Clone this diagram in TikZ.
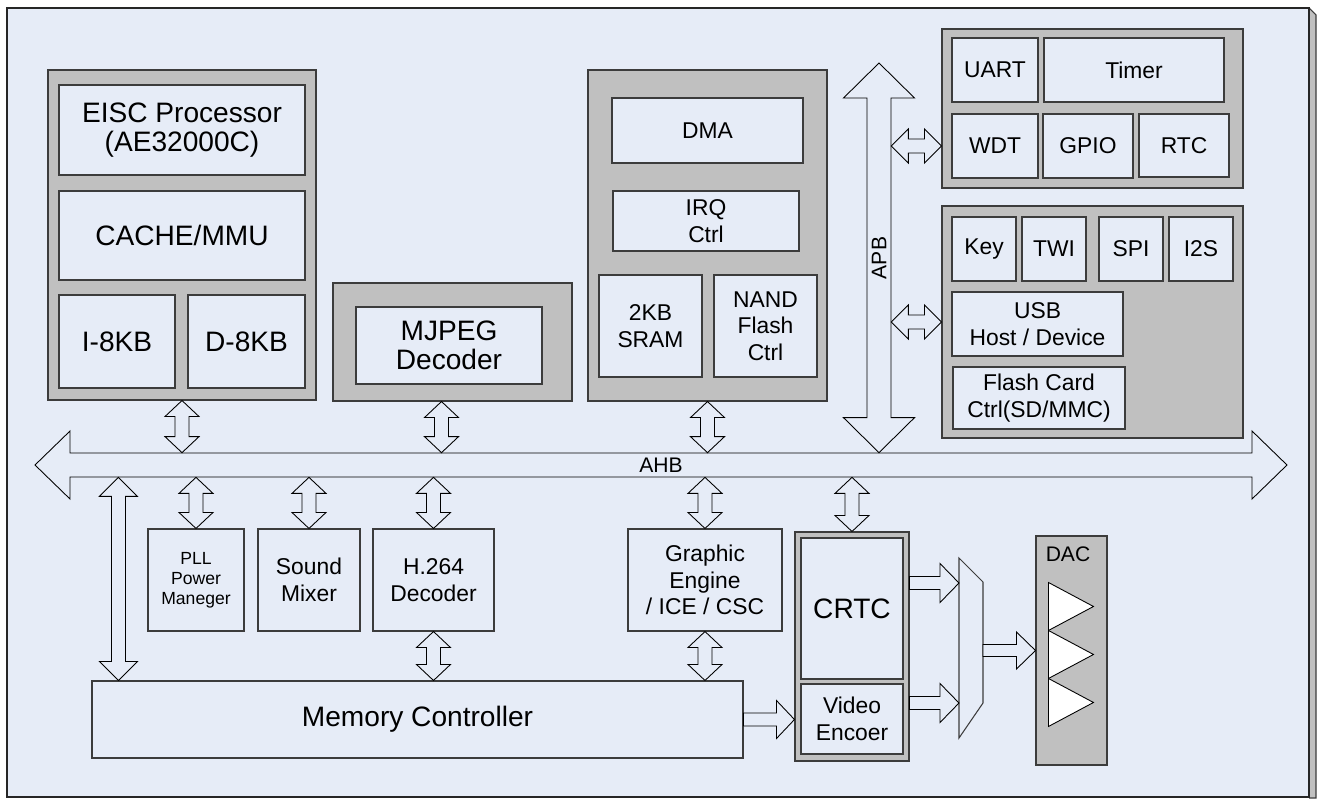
\documentclass[tikz,border=0pt]{standalone}
\usepackage{fontspec}
\setmainfont{Liberation Sans}
\usepackage{graphicx}
\usepackage{xcolor}
\usepackage{tikz}
\usetikzlibrary{positioning,calc}
\definecolor{panel}{HTML}{E6ECF7}
\definecolor{slab}{HTML}{C0C0C0}
\definecolor{edge}{HTML}{3C3C3C}

\newcommand{\labbig}{\fontsize{16}{16.5}\selectfont}
\newcommand{\labmid}{\fontsize{13}{15}\selectfont}
\newcommand{\labsml}{\fontsize{10}{11.3}\selectfont}
\newcommand{\labbus}{\fontsize{12}{14}\selectfont}

% fat block arrows: #1 half head, #2 half shaft, #3 head length, #4 from, #5 to
\newcommand{\vdbl}[5]{\draw[fatarr] (#4) -- ++(#1,#3) -- ++(#2-#1,0) -- ($(#5)+(#2,-#3)$) -- ++(#1-#2,0) -- (#5) -- ++(-#1,-#3) -- ++(#1-#2,0) -- ($(#4)+(-#2,#3)$) -- ++(#2-#1,0) -- cycle;}
\newcommand{\hdbl}[5]{\draw[fatarr] (#4) -- ++(#3,-#1) -- ++(0,#1-#2) -- ($(#5)+(-#3,-#2)$) -- ++(0,#2-#1) -- (#5) -- ++(-#3,#1) -- ++(0,#2-#1) -- ($(#4)+(#3,#2)$) -- ++(0,#1-#2) -- cycle;}
\newcommand{\hfat}[5]{\draw[fatarr] ($(#4)+(0,-#2)$) -- ($(#5)+(-#3,-#2)$) -- ++(0,#2-#1) -- (#5) -- ++(-#3,#1) -- ++(0,#2-#1) -- ($(#4)+(0,#2)$) -- cycle;}

\begin{document}
\begin{tikzpicture}[
    x=0.02cm, y=-0.02cm,
    sz/.style 2 args={minimum width=#1*0.02cm, minimum height=#2*0.02cm},
    grp/.style={draw=edge, fill=slab, line width=0.6pt, inner sep=0pt},
    unit/.style={draw=edge, fill=panel, line width=0.6pt, inner sep=0pt, align=center, font=\labmid},
    fatarr/.style={draw=black, fill=panel, line width=0.5pt, line join=miter},
    tri/.style={draw=black, fill=white, line width=0.5pt}
]
    \useasboundingbox (0,0) rectangle (1318,798);
    \filldraw[draw=edge, fill=slab, line width=0.6pt] (1309,8) -- (1316,15) -- (1316,798) -- (1309,798);
    \filldraw[draw=black!85, fill=panel, line width=0.8pt] (7,8) rectangle (1309,797);

    \node[grp, sz={268}{330}] (cpugrp) at (182,235) {};
    \node[unit, sz={246}{90}, font=\labbig] (cpu) at (182,130) {EISC Processor\\(AE32000C)};
    \node[unit, sz={246}{89}, font=\labbig] (cache) at (182,235.5) {CACHE/MMU};
    \node[unit, sz={116}{93}, font=\labbig] (icache) at (117,341.5) {I-8KB};
    \node[unit, sz={117}{93}, font=\labbig] (dcache) at (246.5,341.5) {D-8KB};

    \node[grp, sz={239}{118}] (mjpgrp) at (452.5,342) {};
    \node[unit, sz={186}{77}, font=\labbig] (mjpeg) at (449,345.5) {MJPEG\\Decoder};

    \node[grp, sz={239}{331}] (dmagrp) at (707.5,235.5) {};
    \node[unit, sz={191}{65}] (dma) at (707.5,130.5) {DMA};
    \node[unit, sz={186}{60}] (irq) at (706,221) {IRQ\\Ctrl};
    \node[unit, sz={103}{102}] (sram) at (650.5,326) {2KB\\SRAM};
    \node[unit, sz={103}{102}] (nand) at (765.5,326) {NAND\\Flash\\Ctrl};

    \node[grp, sz={301}{159}] (pgrpA) at (1092.5,108.5) {};
    \node[unit, sz={86}{64}] (uart) at (995,70) {UART};
    \node[unit, sz={180}{64}] (timer) at (1134,70) {Timer};
    \node[unit, sz={86}{64}] (wdt) at (995,146) {WDT};
    \node[unit, sz={90}{64}] (gpio) at (1088,146) {GPIO};
    \node[unit, sz={90}{63}] (rtc) at (1184,145.5) {RTC};

    \node[grp, sz={301}{232}] (pgrpB) at (1092.5,322) {};
    \node[unit, sz={64}{64}] (key) at (984,249) {Key};
    \node[unit, sz={64}{64}] (twi) at (1054,249) {TWI};
    \node[unit, sz={64}{64}] (spi) at (1131,249) {SPI};
    \node[unit, sz={64}{64}] (iis) at (1201,249) {I2S};
    \node[unit, sz={171}{64}] (usb) at (1037.5,324) {USB\\Host / Device};
    \node[unit, sz={172}{62}] (fcard) at (1039,398) {Flash Card\\Ctrl(SD/MMC)};

    \node[unit, sz={96}{102}, font=\labsml] (pll) at (196,580) {PLL\\Power\\Maneger};
    \node[unit, sz={102}{102}] (sound) at (309,580) {Sound\\Mixer};
    \node[unit, sz={121}{102}] (h264) at (433.5,580) {H.264\\Decoder};
    \node[unit, sz={154}{102}] (gfx) at (705,580) {Graphic\\Engine\\/ ICE / CSC};
    \node[unit, sz={651}{77}, font=\labbig] (mem) at (417.5,719.5) {Memory Controller};

    \node[grp, sz={114}{229}] (crtcgrp) at (852,646.5) {};
    \node[unit, sz={102}{141}, font=\labbig] (crtc) at (852,608.5) {CRTC};
    \node[unit, sz={102}{70}] (venc) at (852,719) {Video\\Encoer};

    \node[grp, sz={71}{229}] (dac) at (1071.5,650.5) {};
    \node[font=\labbus] (dactxt) at (1068,554) {DAC};
    \foreach \k in {0,1,2}
        \draw[tri] ($(dac.north west)+(13,47+48*\k)$) -- ++(45,24) -- ++(-45,24) -- cycle;

    \coordinate (ahbL) at (35,465);
    \coordinate (ahbR) at (1287,465);
    \hdbl{34}{12}{35}{ahbL}{ahbR}
    \node[inner sep=0pt, sz={1183}{24}, font=\labbus] (ahb) at ($(ahbL)!0.5!(ahbR)$) {AHB};

    \coordinate (apbT) at (879,63);
    \vdbl{35.5}{12}{35}{apbT}{apbT |- ahb.north}
    \node[inner sep=0pt, sz={24}{320}, font=\labbus] (apb) at (879,258) {\rotatebox{90}{APB}};
    \hdbl{17}{7}{17}{apb.east |- wdt}{pgrpA.west |- wdt}
    \hdbl{17}{7}{17}{apb.east |- pgrpB.west}{pgrpB.west}

    \coordinate (mjpout) at ($(mjpgrp.south)+(-11,0)$);
    \vdbl{17}{7}{16}{cpugrp.south}{cpugrp.south |- ahb.north}
    \vdbl{17}{7}{16}{mjpout}{mjpout |- ahb.north}
    \vdbl{17}{7}{16}{dmagrp.south}{dmagrp.south |- ahb.north}

    \vdbl{17}{7}{16}{pll.north |- ahb.south}{pll.north}
    \vdbl{17}{7}{16}{sound.north |- ahb.south}{sound.north}
    \vdbl{17}{7}{16}{h264.north |- ahb.south}{h264.north}
    \vdbl{17}{7}{16}{gfx.north |- ahb.south}{gfx.north}
    \vdbl{17}{7}{16}{crtcgrp.north |- ahb.south}{crtcgrp.north}
    \vdbl{17}{7}{16}{h264.south}{h264.south |- mem.north}
    \vdbl{17}{7}{16}{gfx.south}{gfx.south |- mem.north}

    \coordinate (memtap) at ($(mem.north west)+(27,0)$);
    \vdbl{19}{7}{19}{memtap |- ahb.south}{memtap}

    \coordinate (muxA) at (959,583);
    \coordinate (muxB) at (959,703);
    \coordinate (muxout) at (983,650.5);
    \filldraw[draw=edge, fill=panel, line width=0.6pt] (959,558) -- (983,582) -- (983,703) -- (959,738) -- cycle;

    \hfat{19}{6.5}{18}{mem.east}{crtcgrp.west |- mem.east}
    \hfat{19.5}{6.5}{19}{crtcgrp.east |- muxA}{muxA}
    \hfat{19.5}{6.5}{19}{crtcgrp.east |- muxB}{muxB}
    \hfat{18.5}{6}{19}{muxout}{dac.west}
\end{tikzpicture}
\end{document}
